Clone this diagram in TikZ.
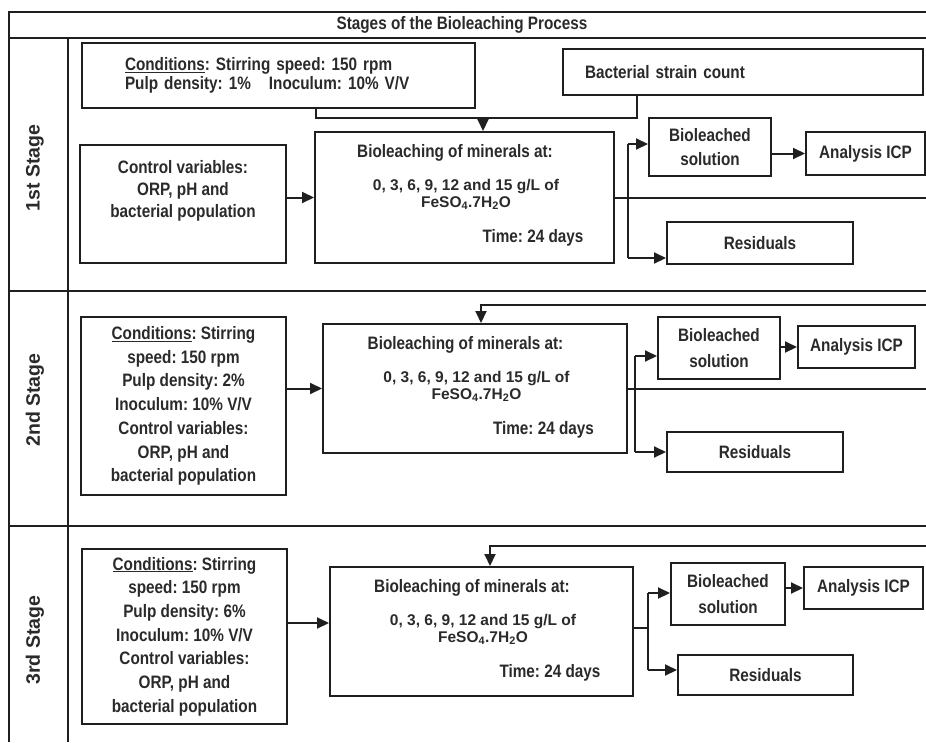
\documentclass[tikz,border=0pt]{standalone}
\usepackage{fontspec}
\setmainfont{Liberation Sans}
\newfontfamily\narrowfont{Liberation Sans}[FakeStretch=0.85]
\usetikzlibrary{arrows.meta}
\definecolor{inkline}{HTML}{1F1F1F}
\definecolor{inktext}{HTML}{2A2A2A}
\frenchspacing

\begin{document}
\begin{tikzpicture}[x=1pt, y=-1pt,
    frame/.style={draw=inkline, line width=2.4pt},
    box/.style={draw=inkline, line width=2pt, rectangle, inner sep=0pt, align=center, text=inktext, font=\narrowfont\bfseries\fontsize{18}{24}\selectfont},
    txt/.style={inner sep=0pt, align=center, text=inktext, font=\narrowfont\bfseries\fontsize{18}{22}\selectfont},
    conc/.style={inner sep=0pt, align=center, text=inktext, font=\bfseries\fontsize{15.5}{17}\selectfont},
    stagelbl/.style={inner sep=0pt, rotate=90, text=inktext, font=\bfseries\fontsize{19.5}{22}\selectfont},
    link/.style={draw=inkline, line width=2pt},
    arr/.style={link, -{Triangle[length=12pt, width=11pt]}}
  ]
        \useasboundingbox (0,0) rectangle (926,742);

        % Table frame
        \draw[frame] (9,742) -- (9,12) -- (926,12);
        \draw[frame] (9,38) -- (926,38);
        \draw[frame] (68,38) -- (68,742);
        \draw[frame] (9,291) -- (926,291);
        \draw[frame] (9,526) -- (926,526);
        \node[txt] (title) at (462,25) {Stages of the Bioleaching Process};
        \node[stagelbl] (lbl1) at (35,168) {1st Stage};
        \node[stagelbl] (lbl2) at (35,400) {2nd Stage};
        \node[stagelbl] (lbl3) at (35,640) {3rd Stage};

        % Define the nodes (1st stage)
        \node[box, align=left, text width=307pt, inner xsep=43pt, minimum height=65pt, font=\narrowfont\bfseries\fontsize{18}{19}\selectfont] (cond1) at (278.5,75.5) {\underline{Conditions}: Stirring speed: 150 rpm\\Pulp density: 1\%~~~Inoculum: 10\% V/V};
        \node[box, align=left, text width=316pt, inner xsep=22pt, minimum height=46pt] (bact) at (743,72) {Bacterial strain count};
        \node[box, minimum width=206pt, minimum height=118pt] (ctrl1) at (183,204) {};
        \node[txt] (ctrl1t) at (183,191) {Control variables:\\ORP, pH and\\bacterial population};
        \node[box, minimum width=299pt, minimum height=131pt] (bio1) at (464.5,197.5) {};
        \node[txt] (bio1a) at (455,153) {Bioleaching of minerals at:};
        \node[conc] (bio1b) at (466,194.5) {0, 3, 6, 9, 12 and 15 g/L of\\FeSO\textsubscript{4}.7H\textsubscript{2}O};
        \node[txt] (bio1c) at (533,238) {Time: 24 days};
        \node[box, minimum width=122pt, minimum height=58pt] (sol1) at (710,147) {Bioleached\\solution};
        \node[box, minimum width=119pt, minimum height=43pt] (icp1) at (865.5,153.5) {Analysis ICP};
        \node[box, minimum width=186pt, minimum height=42pt] (res1) at (760,243) {Residuals};
        \coordinate (m1) at (316,118);
        \coordinate (m2) at (637,118);
        \coordinate (m3) at (483,118);
        \coordinate (f1) at (926,197.5);
        \coordinate (bt1) at (628,144);
        \coordinate (bb1) at (628,258);

        % Draw the edges (1st stage)
        \draw[link] (cond1.south -| m1) -- (m1) -- (m2) -- (bact.south -| m2);
        \draw[arr] (m3) -- (m3 |- bio1.north);
        \draw[arr] (ctrl1.east |- bio1.west) -- (bio1.west);
        \draw[link] (bio1.east) -- (f1);
        \draw[link] (bt1) -- (bb1);
        \draw[arr] (bt1) -- (bt1 -| sol1.west);
        \draw[arr] (bb1) -- (bb1 -| res1.west);
        \draw[arr] (icp1.west -| sol1.east) -- (icp1.west);

        % Define the nodes (2nd stage)
        \node[box, minimum width=205pt, minimum height=178pt, font=\narrowfont\bfseries\fontsize{18}{23.7}\selectfont] (cond2) at (183.5,406) {\underline{Conditions}: Stirring\\speed: 150 rpm\\Pulp density: 2\%\\Inoculum: 10\% V/V\\Control variables:\\ORP, pH and\\bacterial population};
        \node[box, minimum width=304pt, minimum height=129pt] (bio2) at (475,388.5) {};
        \node[txt] (bio2a) at (465.5,345) {Bioleaching of minerals at:};
        \node[conc] (bio2b) at (476.5,386.5) {0, 3, 6, 9, 12 and 15 g/L of\\FeSO\textsubscript{4}.7H\textsubscript{2}O};
        \node[txt] (bio2c) at (543.5,430) {Time: 24 days};
        \node[box, minimum width=122pt, minimum height=62pt] (sol2) at (719,348) {Bioleached\\[2pt]solution};
        \node[box, minimum width=117pt, minimum height=42pt] (icp2) at (856.5,347) {Analysis ICP};
        \node[box, minimum width=176pt, minimum height=40pt] (res2) at (755,452) {Residuals};
        \coordinate (k2) at (481,305);
        \coordinate (f2) at (926,305);
        \coordinate (f2b) at (926,388.5);
        \coordinate (bt2) at (635,356);
        \coordinate (bb2) at (635,452);

        % Draw the edges (2nd stage)
        \draw[arr] (f2) -- (k2) -- (k2 |- bio2.north);
        \draw[arr] (cond2.east |- bio2.west) -- (bio2.west);
        \draw[link] (bio2.east) -- (f2b);
        \draw[link] (bt2) -- (bb2);
        \draw[arr] (bt2) -- (bt2 -| sol2.west);
        \draw[arr] (bb2) -- (bb2 -| res2.west);
        \draw[arr] (sol2.east |- icp2.west) -- (icp2.west);

        % Define the nodes (3rd stage)
        \node[box, minimum width=205pt, minimum height=175pt, font=\narrowfont\bfseries\fontsize{18}{23.7}\selectfont] (cond3) at (184.5,636.5) {\underline{Conditions}: Stirring\\speed: 150 rpm\\Pulp density: 6\%\\Inoculum: 10\% V/V\\Control variables:\\ORP, pH and\\bacterial population};
        \node[box, minimum width=303pt, minimum height=129pt] (bio3) at (481.5,631.5) {};
        \node[txt] (bio3a) at (472,588) {Bioleaching of minerals at:};
        \node[conc] (bio3b) at (483,629.5) {0, 3, 6, 9, 12 and 15 g/L of\\FeSO\textsubscript{4}.7H\textsubscript{2}O};
        \node[txt] (bio3c) at (550,673) {Time: 24 days};
        \node[box, minimum width=114pt, minimum height=62pt] (sol3) at (728,594) {Bioleached\\[2pt]solution};
        \node[box, minimum width=119pt, minimum height=42pt] (icp3) at (863.5,588) {Analysis ICP};
        \node[box, minimum width=175pt, minimum height=40pt] (res3) at (765.5,675) {Residuals};
        \coordinate (k3) at (490,546);
        \coordinate (f3) at (926,546);
        \coordinate (a3) at (287,623);
        \coordinate (j3) at (648,628);
        \coordinate (bt3) at (648,593);
        \coordinate (bb3) at (648,670);

        % Draw the edges (3rd stage)
        \draw[arr] (f3) -- (k3) -- (k3 |- bio3.north);
        \draw[arr] (cond3.east |- a3) -- (bio3.west |- a3);
        \draw[link] (bio3.east |- j3) -- (j3);
        \draw[link] (bt3) -- (bb3);
        \draw[arr] (bt3) -- (bt3 -| sol3.west);
        \draw[arr] (bb3) -- (bb3 -| res3.west);
        \draw[arr] (sol3.east |- icp3.west) -- (icp3.west);
\end{tikzpicture}
\end{document}
